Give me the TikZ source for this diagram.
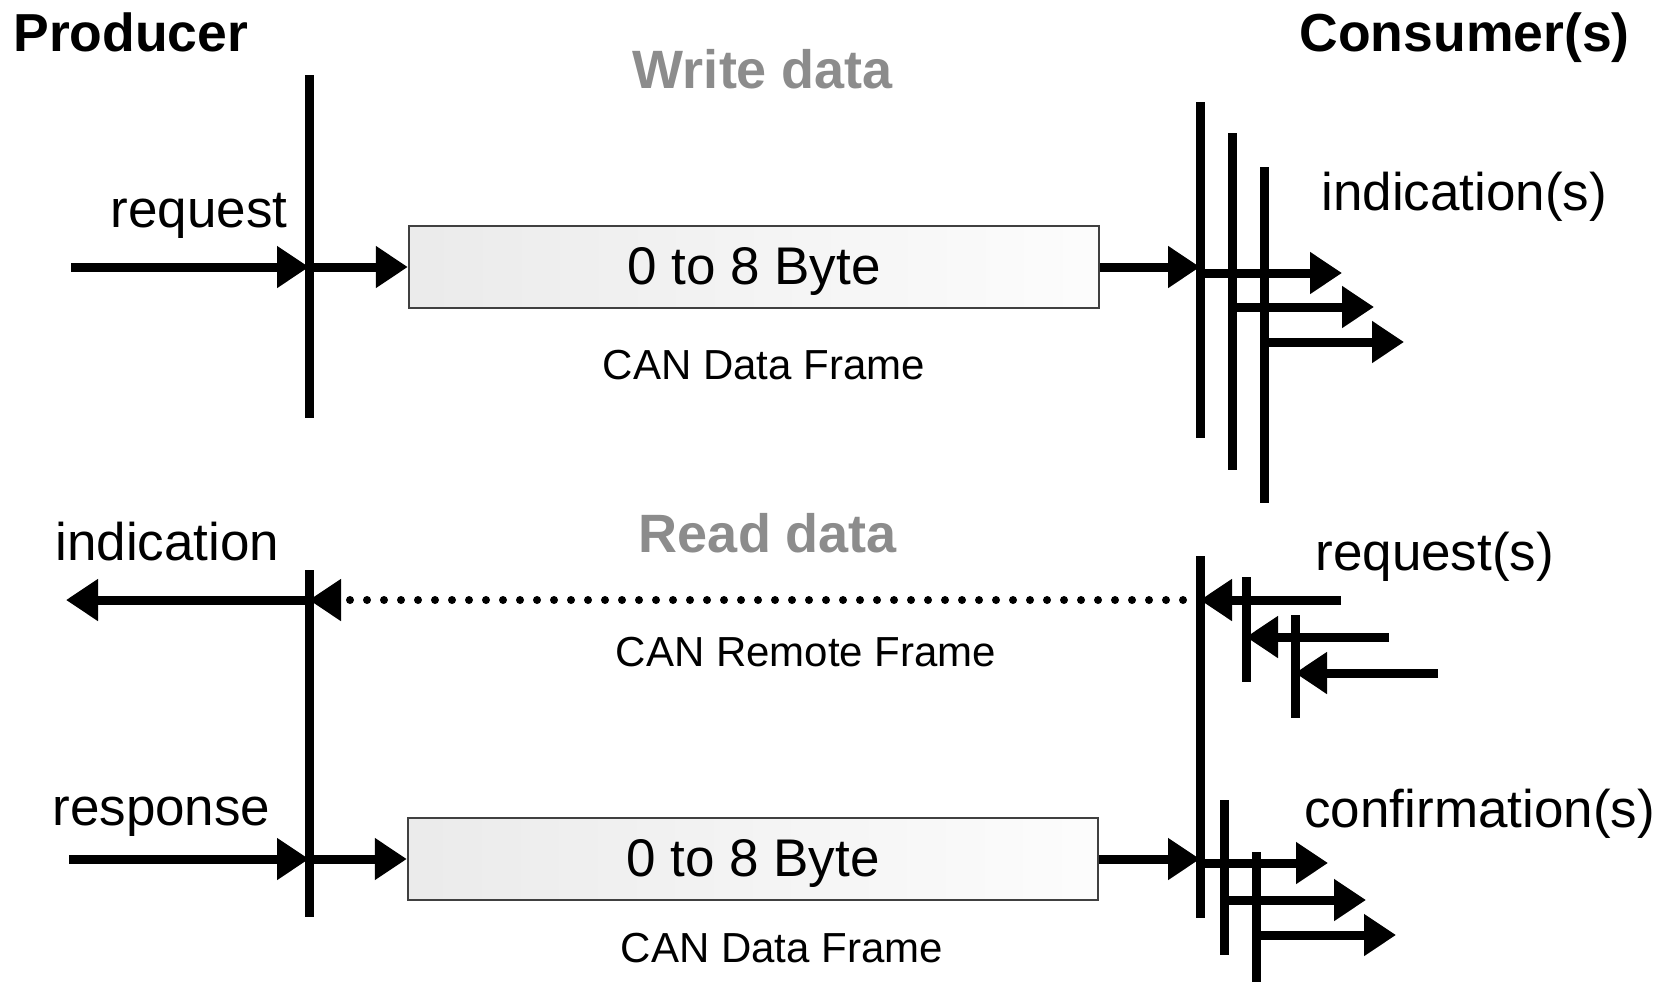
\documentclass[tikz,border=0pt]{standalone}
\usepackage{fontspec}
\setmainfont{Liberation Sans}
\usetikzlibrary{arrows.meta,positioning}

\begin{document}
\begin{tikzpicture}[x=0.5pt,y=-0.5pt,
	bar/.style={line width=4.5pt},
	sig/.style={line width=4.5pt,-{Triangle[length=16pt,width=20pt]}},
	remote/.style={line width=4pt,line cap=round,dash pattern=on 0pt off 8.5pt,-{Triangle[length=16pt,width=20pt]}},
	frame/.style={draw=black!75,line width=1.2pt,left color=black!8,right color=black!1,minimum width=345pt,minimum height=41pt,inner sep=0pt,text depth=1pt,font=\fontsize{26.5}{30}\selectfont},
	lbl/.style={inner sep=0pt,font=\fontsize{26.5}{30}\selectfont},
	small/.style={inner sep=0pt,font=\fontsize{21}{24}\selectfont},
	head/.style={inner sep=0pt,font=\bfseries\fontsize{26.75}{30}\selectfont},
	mode/.style={inner sep=0pt,text=black!45,font=\bfseries\fontsize{27}{30}\selectfont}]
	\useasboundingbox (0,0) rectangle (1673,982);
	
	\node[head,anchor=base west] (prod) at (13,51) {Producer};
	\node[head,anchor=base east] (cons) at (1630,51) {Consumer(s)};
	
	% write data
	\node[mode] (wr) at (763,69) {Write data};
	\coordinate (p1) at (309,75);
	\coordinate (p1b) at (309,418);
	\draw[bar] (p1) -- (p1b);
	\node[lbl,anchor=base east] (req) at (288,227) {request};
	\coordinate (reqin) at (71,267);
	\draw[sig] (reqin) -- (reqin -| p1);
	\node[frame] (b1) at (754,267) {0 to 8 Byte};
	\draw[sig] (reqin -| p1) -- (b1.west);
	\node[small] (f1) at (764,365) {CAN Data Frame};
	\foreach \x/\t/\b/\y/\e [count=\i] in {1200/102/438/273/1342,1232/133/470/307/1374,1264/167/503/342/1404}{
		\coordinate (c\i) at (\x,\t);
		\coordinate (c\i b) at (\x,\b);
		\draw[bar] (c\i) -- (c\i b);
		\coordinate (ind\i) at (\e,\y);
		\draw[sig] (c\i |- ind\i) -- (ind\i);
	}
	\draw[sig] (b1.east) -- (b1.east -| c1);
	\node[lbl,anchor=base west] (ind) at (1321,210) {indication(s)};
	
	% read data
	\node[mode] (rd) at (768,533) {Read data};
	\coordinate (p2) at (309,570);
	\coordinate (p2b) at (309,917);
	\draw[bar] (p2) -- (p2b);
	\node[lbl,anchor=base west] (pind) at (55,560) {indication};
	\coordinate (indout) at (66,600);
	\coordinate (c4) at (1200,556);
	\coordinate (c4b) at (1200,918);
	\draw[bar] (c4) -- (c4b);
	\draw[sig] (indout -| p2) -- (indout);
	\draw[remote] (indout -| c4) -- (indout -| p2);
	\node[small] (f2) at (806,652) {CAN Remote Frame};
	\coordinate (r2) at (1246,577);
	\coordinate (r2b) at (1246,682);
	\coordinate (r3) at (1295,615);
	\coordinate (r3b) at (1295,718);
	\draw[bar] (r2) -- (r2b);
	\draw[bar] (r3) -- (r3b);
	\coordinate (rq1) at (1341,600);
	\coordinate (rq2) at (1389,637);
	\coordinate (rq3) at (1438,673);
	\draw[sig] (rq1) -- (rq1 -| c4);
	\draw[sig] (rq2) -- (rq2 -| r2);
	\draw[sig] (rq3) -- (rq3 -| r3);
	\node[lbl,anchor=base west] (reqs) at (1315,570) {request(s)};
	
	\node[lbl,anchor=base west] (resp) at (52,825) {response};
	\coordinate (respin) at (69,859);
	\draw[sig] (respin) -- (respin -| p2);
	\node[frame] (b2) at (753,859) {0 to 8 Byte};
	\draw[sig] (respin -| p2) -- (b2.west);
	\node[small] (f3) at (782,948) {CAN Data Frame};
	\draw[sig] (b2.east) -- (b2.east -| c4);
	\coordinate (ca) at (1224,800);
	\coordinate (cab) at (1224,955);
	\coordinate (cb) at (1256,852);
	\coordinate (cbb) at (1256,982);
	\draw[bar] (ca) -- (cab);
	\draw[bar] (cb) -- (cbb);
	\coordinate (cf1) at (1328,863);
	\coordinate (cf2) at (1366,900);
	\coordinate (cf3) at (1396,935);
	\draw[sig] (cf1 -| c4) -- (cf1);
	\draw[sig] (cf2 -| ca) -- (cf2);
	\draw[sig] (cf3 -| cb) -- (cf3);
	\node[lbl,anchor=base west] (conf) at (1304,827) {confirmation(s)};
\end{tikzpicture}
\end{document}
